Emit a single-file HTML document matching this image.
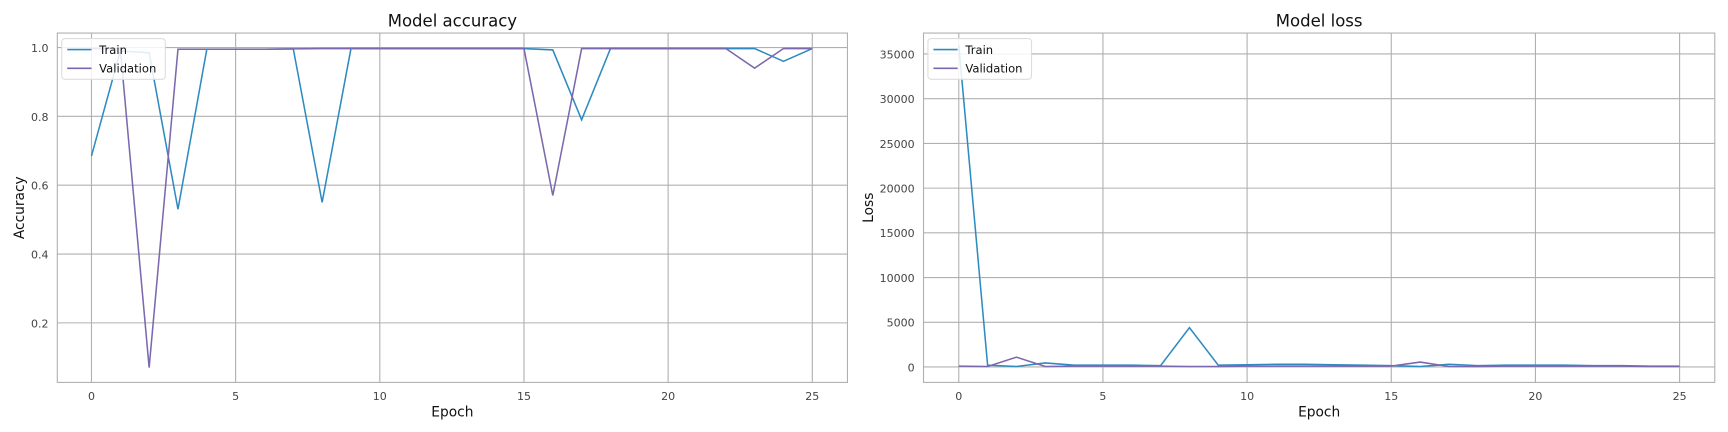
<!DOCTYPE html>
<html><head><meta charset="utf-8"><style>
body{margin:0;background:#fff;font-family:"Liberation Sans","DejaVu Sans",sans-serif}
svg{display:block}
svg text{font-family:"DejaVu Sans","Liberation Sans",sans-serif}
</style></head><body>
<svg id="c" width="1728" height="432" viewBox="0 0 1568 392"></svg>
<script>
const epochs = Array.from({length:26},(_,i)=>i);
const accTrain = [0.685,0.99,0.985,0.53,0.995,0.995,0.995,0.996,0.55,0.997,0.997,0.997,0.997,0.997,0.997,0.997,0.993,0.79,0.997,0.997,0.997,0.997,0.997,0.997,0.96,0.997];
const accVal = [0.997,0.997,0.07,0.995,0.995,0.995,0.995,0.996,0.997,0.997,0.997,0.997,0.997,0.997,0.997,0.997,0.57,0.997,0.997,0.997,0.997,0.997,0.997,0.94,0.997,0.997];
const lossTrain = [36000,200,50,450,200,200,200,150,4400,200,250,300,300,250,200,150,50,300,150,200,200,200,150,150,100,100];
const lossVal = [100,50,1100,50,100,100,100,100,50,50,100,100,100,100,100,100,550,50,50,100,100,100,100,100,50,50];
const xTicks = [0,5,10,15,20,25];
const accTicks = [0.2,0.4,0.6,0.8,1.0];
const lossTicks = [0,5000,10000,15000,20000,25000,30000,35000];
const NS='http://www.w3.org/2000/svg';
const svg=document.getElementById('c');
function mk(t,a,p){const e=document.createElementNS(NS,t);for(const k in a)e.setAttribute(k,a[k]);(p||svg).appendChild(e);return e;}
function chart(o){
  const g=mk('g',{});
  
  
  const X=v=>o.x0+(v-o.xmin)/(o.xmax-o.xmin)*(o.x1-o.x0);
  const Y=v=>o.y1-(v-o.ymin)/(o.ymax-o.ymin)*(o.y1-o.y0);
  xTicks.forEach(t=>{mk('line',{x1:X(t),x2:X(t),y1:o.y0,y2:o.y1,stroke:'#b0b0b0','stroke-width':1},g);
    const tx=mk('text',{x:X(t),y:o.y1+16,'text-anchor':'middle','font-size':10,fill:'#444'},g);tx.textContent=t;});
  o.yTicks.forEach(t=>{mk('line',{x1:o.x0,x2:o.x1,y1:Y(t),y2:Y(t),stroke:'#b0b0b0','stroke-width':1},g);
    const tx=mk('text',{x:o.x0-8,y:Y(t)+4,'text-anchor':'end','font-size':10,fill:'#444'},g);tx.textContent=o.fmt(t);});
  mk('rect',{x:o.x0,y:o.y0,width:o.x1-o.x0,height:o.y1-o.y0,fill:'none',stroke:'#b0b0b0','stroke-width':1},g);
  [[o.s1,'#2e8bc0','series-train'],[o.s2,'#7b68ae','series-validation']].forEach(([s,c,n])=>{
    const p=mk('polyline',{points:s.map((v,i)=>X(epochs[i])+','+Y(v)).join(' '),fill:'none',stroke:c,'stroke-width':1.4},g);
    
    
  });
  const t=mk('text',{x:(o.x0+o.x1)/2,y:o.y0-6,'text-anchor':'middle','font-size':15,fill:'#111'},g);t.textContent=o.title;
  
  const xl=mk('text',{x:(o.x0+o.x1)/2,y:o.y1+31,'text-anchor':'middle','font-size':12.5,fill:'#111'},g);xl.textContent='Epoch';
  
  const yl=mk('text',{x:0,y:0,'text-anchor':'middle','font-size':12.5,fill:'#111',transform:`translate(${o.ylx},${(o.y0+o.y1)/2}) rotate(-90)`},g);yl.textContent=o.ylabel;
  
  const lg=mk('g',{},g);
  
  mk('rect',{x:o.x0+4,y:o.y0+5,width:94,height:37,rx:3,fill:'#fff','fill-opacity':0.85,stroke:'#ddd'},lg);
  [['Train','#2e8bc0'],['Validation','#7b68ae']].forEach(([n,c],i)=>{
    const yy=o.y0+15+i*17;
    mk('line',{x1:o.x0+9,x2:o.x0+31,y1:yy,y2:yy,stroke:c,'stroke-width':1.5},lg);
    const tt=mk('text',{x:o.x0+38,y:yy+4,'font-size':10.5,fill:'#111'},lg);tt.textContent=n;
  });
}
chart({name:'accuracy-chart',title:'Model accuracy',ylabel:'Accuracy',x0:52,x1:769,y0:30,y1:347,xmin:-1.185,xmax:26.22,ymin:0.027,ymax:1.042,yTicks:accTicks,fmt:t=>t.toFixed(1),s1:accTrain,s2:accVal,ylx:22});
chart({name:'loss-chart',title:'Model loss',ylabel:'Loss',x0:838,x1:1556,y0:30,y1:347,xmin:-1.223,xmax:26.22,ymin:-1725,ymax:37340,yTicks:lossTicks,fmt:t=>String(t),s1:lossTrain,s2:lossVal,ylx:792});
</script>
</body></html>
